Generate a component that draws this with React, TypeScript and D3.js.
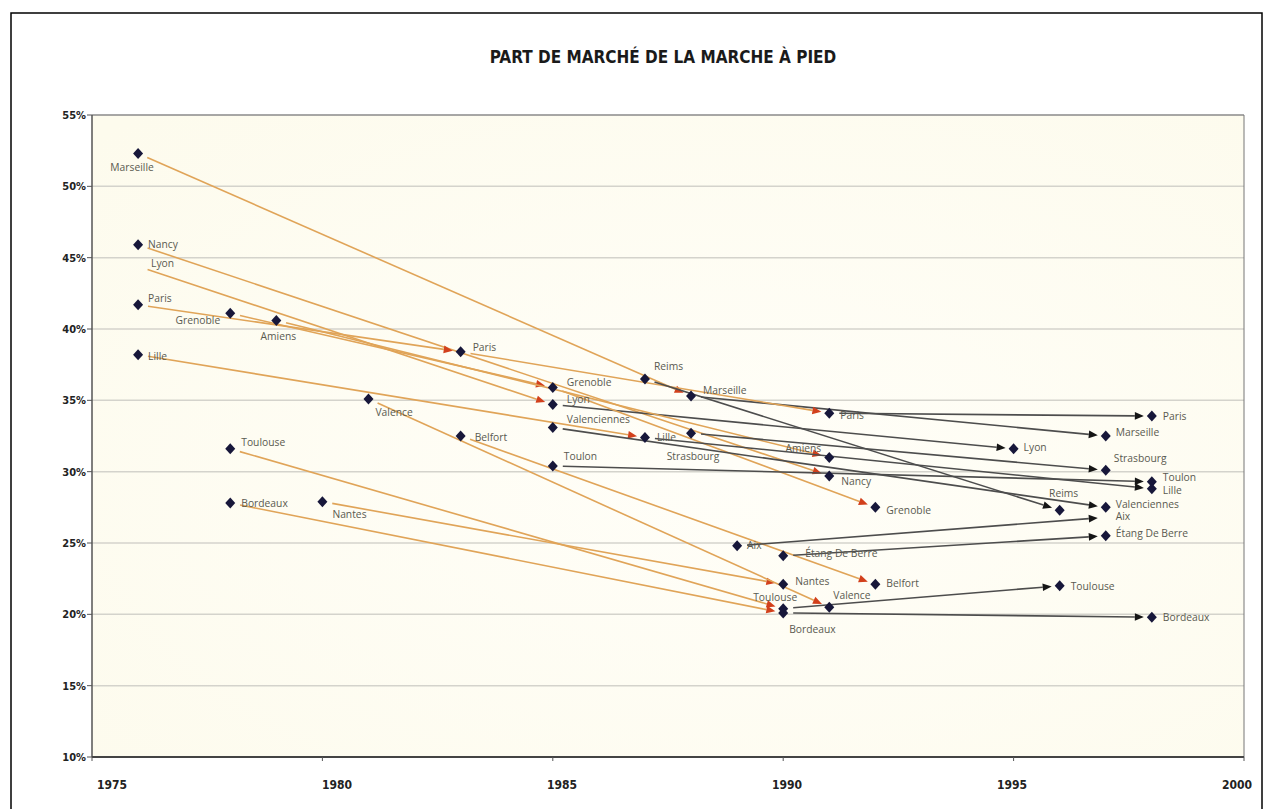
import { FC } from 'react';
import * as d3 from 'd3';

// Walking modal share (%) by city and survey year
const cities = [
  'Marseille', 'Nancy', 'Lyon', 'Paris', 'Grenoble', 'Amiens', 'Lille', 'Toulouse',
  'Bordeaux', 'Nantes', 'Valence', 'Belfort', 'Valenciennes', 'Toulon', 'Reims',
  'Strasbourg', 'Aix', 'Étang De Berre',
];

const surveys: [string, number, number][] = [
  ['Marseille', 1976, 52.3], ['Marseille', 1988, 35.3], ['Marseille', 1997, 32.5],
  ['Nancy', 1976, 45.9], ['Nancy', 1991, 29.7],
  ['Lyon', 1976, 44.4], ['Lyon', 1985, 34.7], ['Lyon', 1995, 31.6],
  ['Paris', 1976, 41.7], ['Paris', 1983, 38.4], ['Paris', 1991, 34.1], ['Paris', 1998, 33.9],
  ['Grenoble', 1978, 41.1], ['Grenoble', 1985, 35.9], ['Grenoble', 1992, 27.5],
  ['Amiens', 1979, 40.6], ['Amiens', 1991, 31.0],
  ['Lille', 1976, 38.2], ['Lille', 1987, 32.4], ['Lille', 1998, 28.8],
  ['Toulouse', 1978, 31.6], ['Toulouse', 1990, 20.4], ['Toulouse', 1996, 22.0],
  ['Bordeaux', 1978, 27.8], ['Bordeaux', 1990, 20.1], ['Bordeaux', 1998, 19.8],
  ['Nantes', 1980, 27.9], ['Nantes', 1990, 22.1],
  ['Valence', 1981, 35.1], ['Valence', 1991, 20.5],
  ['Belfort', 1983, 32.5], ['Belfort', 1992, 22.1],
  ['Valenciennes', 1985, 33.1], ['Valenciennes', 1997, 27.5],
  ['Toulon', 1985, 30.4], ['Toulon', 1998, 29.3],
  ['Reims', 1987, 36.5], ['Reims', 1996, 27.3],
  ['Strasbourg', 1988, 32.7], ['Strasbourg', 1997, 30.1],
  ['Aix', 1989, 24.8], ['Aix', 1997, 26.8],
  ['Étang De Berre', 1990, 24.1], ['Étang De Berre', 1997, 25.5],
];

const yTicks = [10, 15, 20, 25, 30, 35, 40, 45, 50, 55];
const xTicks = [1975, 1980, 1985, 1990, 1995, 2000];

// points drawn without a marker in the original
const noMarker = new Set(['Lyon-1976', 'Aix-1997']);

// label placement: [dx, dy, anchor]
const labelPos: Record<string, [number, number, string]> = {
  'Marseille-1976': [-6, 17, 'middle'], 'Nancy-1976': [10, 3, 'start'], 'Lyon-1976': [13, 1, 'start'],
  'Paris-1976': [10, -3, 'start'], 'Grenoble-1978': [-10, 11, 'end'], 'Amiens-1979': [2, 20, 'middle'],
  'Lille-1976': [10, 5, 'start'], 'Toulouse-1978': [11, -3, 'start'], 'Bordeaux-1978': [11, 4, 'start'],
  'Nantes-1980': [10, 16, 'start'], 'Valence-1981': [7, 17, 'start'], 'Paris-1983': [12, -1, 'start'],
  'Belfort-1983': [14, 5, 'start'], 'Grenoble-1985': [14, -1, 'start'], 'Lyon-1985': [14, -2, 'start'],
  'Valenciennes-1985': [14, -4, 'start'], 'Toulon-1985': [11, -6, 'start'], 'Reims-1987': [9, -9, 'start'],
  'Lille-1987': [12, 4, 'start'], 'Marseille-1988': [12, -2, 'start'], 'Strasbourg-1988': [2, 27, 'middle'],
  'Paris-1991': [11, 6, 'start'], 'Amiens-1991': [-8, -5, 'end'], 'Nancy-1991': [12, 9, 'start'],
  'Grenoble-1992': [11, 7, 'start'], 'Aix-1989': [10, 3, 'start'], 'Étang De Berre-1990': [22, 1, 'start'],
  'Nantes-1990': [12, 1, 'start'], 'Belfort-1992': [11, 3, 'start'], 'Toulouse-1990': [-8, -8, 'middle'],
  'Valence-1991': [4, -8, 'start'], 'Bordeaux-1990': [6, 20, 'start'], 'Paris-1998': [11, 4, 'start'],
  'Marseille-1997': [10, 0, 'start'], 'Lyon-1995': [10, 2, 'start'], 'Strasbourg-1997': [8, -8, 'start'],
  'Toulon-1998': [11, -1, 'start'], 'Lille-1998': [11, 5, 'start'], 'Reims-1996': [4, -13, 'middle'],
  'Valenciennes-1997': [10, 1, 'start'], 'Aix-1997': [10, 3, 'start'], 'Étang De Berre-1997': [10, 1, 'start'],
  'Toulouse-1996': [11, 4, 'start'], 'Bordeaux-1998': [11, 4, 'start'],
};

const W = 1272;
const H = 809;
const left = 92, right = 1244, top = 115, bottom = 757;

const x = d3.scaleLinear().domain([1975, 2000]).range([left, right]);
const y = d3.scaleLinear().domain([10, 55]).range([bottom, top]);
// year labels sit on a slightly narrower spread than the ticks in the original
const xLabel = d3.scaleLinear().domain([1975, 2000]).range([112, 1237]);

const axisFont = '"DejaVu Sans Condensed", "DejaVu Sans", sans-serif';
const labelFont = '"Open Sans", sans-serif';

const App: FC = () => {
  const segments: { x1: number; y1: number; x2: number; y2: number; early: boolean; key: string }[] = [];
  cities.forEach(c => {
    const pts = surveys.filter(s => s[0] === c).sort((a, b) => a[1] - b[1]);
    for (let i = 1; i < pts.length; i++) {
      segments.push({
        x1: x(pts[i - 1][1]), y1: y(pts[i - 1][2]),
        x2: x(pts[i][1]), y2: y(pts[i][2]),
        early: pts[i][1] <= 1992,
        key: `${c}-${pts[i][1]}`,
      });
    }
  });

  const arrow = (s: typeof segments[0]) => {
    const dx = s.x2 - s.x1, dy = s.y2 - s.y1;
    const len = Math.hypot(dx, dy);
    const ux = dx / len, uy = dy / len;
    const sx = s.x1 + ux * 10, sy = s.y1 + uy * 10;
    const tx = s.x2 - ux * 8, ty = s.y2 - uy * 8;
    const bx = tx - ux * 9, by = ty - uy * 9;
    const px = -uy * 3.8, py = ux * 3.8;
    const head = `M${tx},${ty}L${bx + px},${by + py}L${bx - px},${by - py}Z`;
    return (
      <g key={s.key}>
        <line x1={sx} y1={sy} x2={bx} y2={by}
          stroke={s.early ? '#e0a458' : '#4d4d4d'} strokeWidth={1.6} />
        <path d={head} fill={s.early ? '#d2401c' : '#151515'} />
      </g>
    );
  };

  return (
    <svg width={W} height={H} style={{ position: 'absolute', left: 0, top: 0, background: '#fff' }}>
      <defs>
        <radialGradient id="bg" cx="0.55" cy="0.55" r="0.75">
          <stop offset="0" stopColor="#fffef8" />
          <stop offset="1" stopColor="#fdfbed" />
        </radialGradient>
      </defs>
      <rect x={11} y={13} width={1251} height={820} fill="none" stroke="#000" strokeWidth={1.5} />
      <text x={663} y={63} textAnchor="middle" fontFamily={axisFont} fontWeight="bold" fontSize={17} fill="#1a1a1a">
        PART DE MARCHÉ DE LA MARCHE À PIED
      </text>

      <rect x={left} y={top} width={right - left} height={bottom - top} fill="url(#bg)" />
      {yTicks.slice(1, -1).map(t => (
        <line key={t} x1={left} x2={right} y1={y(t)} y2={y(t)} stroke="#d4d3cc" strokeWidth={1.5} />
      ))}
      <line x1={left} x2={right} y1={top} y2={top} stroke="#8a8a8a" strokeWidth={1.5} />
      <line x1={right} x2={right} y1={top} y2={bottom} stroke="#777" strokeWidth={1} />
      <line x1={left} x2={left} y1={top} y2={bottom} stroke="#555" strokeWidth={1.5} />
      <line x1={left} x2={right} y1={bottom} y2={bottom} stroke="#444" strokeWidth={2} />

      {yTicks.map(t => (
        <g key={t}>
          <line x1={left - 5} x2={left} y1={y(t)} y2={y(t)} stroke="#555" strokeWidth={1} />
          <text x={left - 6} y={y(t) + 4} textAnchor="end" fontFamily={axisFont} fontWeight="bold" fontSize={11} fill="#222">
            {t}%
          </text>
        </g>
      ))}
      {xTicks.map(t => (
        <g key={t}>
          <line x1={x(t)} x2={x(t)} y1={bottom} y2={bottom + 4} stroke="#555" strokeWidth={1} />
          <text x={xLabel(t)} y={789} textAnchor="middle" fontFamily={axisFont} fontWeight="bold" fontSize={12} fill="#222">
            {t}
          </text>
        </g>
      ))}

      {segments.map(arrow)}

      {surveys.map(([c, yr, v]) => {
        const k = `${c}-${yr}`;
        const cx = x(yr), cy = y(v);
        return noMarker.has(k) ? null : (
          <path key={k} d={`M${cx},${cy - 5.5}L${cx + 5},${cy}L${cx},${cy + 5.5}L${cx - 5},${cy}Z`} fill="#17173a" />
        );
      })}
      {surveys.map(([c, yr, v]) => {
        const k = `${c}-${yr}`;
        const [dx, dy, anchor] = labelPos[k] || [10, 3, 'start'];
        return (
          <text key={k} x={x(yr) + dx} y={y(v) + dy} textAnchor={anchor} fontFamily={labelFont}
            fontSize={10.3} fill="#5a5a50">
            {c}
          </text>
        );
      })}
    </svg>
  );
};

export default App;
